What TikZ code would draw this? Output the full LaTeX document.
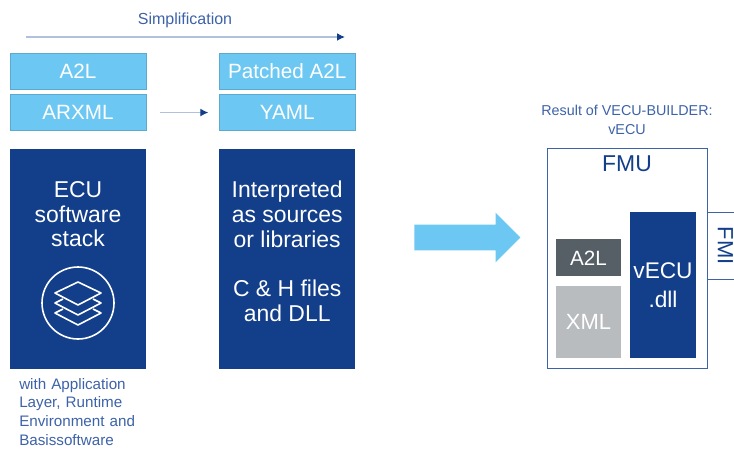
\documentclass[tikz,border=0pt]{standalone}
\usepackage{fontspec}
\setmainfont{Liberation Sans}
\usetikzlibrary{positioning, calc, arrows.meta, shapes.arrows}
\definecolor{vblue}{HTML}{123E8A}
\definecolor{vsky}{HTML}{6CC8F2}
\definecolor{vtext}{HTML}{3D62A8}
\definecolor{vline}{HTML}{B2C0DD}
\definecolor{vdgray}{HTML}{565E66}
\definecolor{vlgray}{HTML}{B8BCBF}
\newcommand\txtsize[1]{\fontsize{#1}{#1}\selectfont}
\tikzset{filebox/.style={fill=vsky, draw=vsky!85!black, line width=0.4pt, text=white, minimum width=102pt, minimum height=27pt, inner sep=0pt, font=\txtsize{15.5}}}
\tikzset{stackbox/.style={fill=vblue, minimum width=102pt, minimum height=165pt, inner sep=0pt}}
\tikzset{stacktext/.style={text=white, inner sep=0pt, align=center, font=\txtsize{17.2}}}
\tikzset{capt/.style={text=vtext, inner sep=0pt, align=center, font=\txtsize{11.4}}}
\tikzset{flowarr/.style={draw=vline, line width=1.2pt, -{Latex[length=6pt,width=6pt,color=vblue]}}}
\tikzset{innerbox/.style={minimum width=49pt, inner sep=0pt, text=white, font=\txtsize{15.5}}}
\begin{document}
\begin{tikzpicture}[x=0.75pt, y=-0.75pt]
	\clip (0,0) rectangle (734,449);
	\useasboundingbox (0,0) rectangle (734,449);

	\node[capt, font=\txtsize{12}] (simp) at (185,20) {Simplification};
	\coordinate (simpstart) at (26,37);
	\coordinate (simpend) at (345,37);
	\draw[flowarr] (simpstart) -- (simpend);

	\node[filebox] (a2l) at (78,71) {A2L};
	\node[filebox, below=3.75pt of a2l] (arxml) {ARXML};
	\node[stackbox, below=13.5pt of arxml] (ecu) {};
	\node[stacktext, below=24pt of ecu.north] (ecutext) {ECU\\[1.5pt]software\\[1.5pt]stack};
	\node[circle, draw=white, line width=1.2pt, minimum size=54pt, inner sep=0pt] (stackicon) at (78,303) {};
	\begin{scope}[shift={(stackicon.center)}, draw=white, line width=1.2pt, line join=round]
		\draw (-23,-10) -- (0,-21) -- (23,-10) -- (0,2) -- cycle;
		\draw (-15,-4) -- (-23,0) -- (0,12) -- (23,0) -- (15,-4);
		\draw (-15,6) -- (-23,10) -- (0,22) -- (23,10) -- (15,6);
	\end{scope}
	\node[capt, anchor=north west, align=left, text width=110pt] (ecunote) at (19,378) {with Application\\[2.6pt]Layer, Runtime\\[2.6pt]Environment and\\[2.6pt]Basissoftware};

	\node[filebox, right=54.5pt of a2l] (patched) {Patched A2L};
	\node[filebox, below=3.75pt of patched] (yaml) {YAML};
	\node[stackbox, below=13.5pt of yaml] (interp) {};
	\node[stacktext, below=24pt of interp.north] (interptext) {Interpreted\\[1.5pt]as sources\\[1.5pt]or libraries\\[19.5pt]C \& H files\\[1.5pt]and DLL};
	\draw[flowarr, line width=0.9pt, shorten <=10.5pt, shorten >=8pt] (arxml) -- (yaml);

	\node[single arrow, fill=vsky, anchor=tail, minimum height=79.5pt, minimum width=36.75pt, single arrow head extend=9pt, inner sep=0pt, text height=18.75pt] (bigarr) at (414,237.5) {};

	\node[capt, font=\txtsize{10.75}] (result) at (627,119.5) {Result of VECU-BUILDER:\\[3.5pt]vECU};
	\node[draw=vtext, line width=0.7pt, minimum width=120pt, minimum height=165pt, inner sep=0pt] (fmu) at (627,258) {};
	\node[text=vblue, below=6pt of fmu.north, inner sep=0pt, font=\txtsize{17.2}] (fmulabel) {FMU};
	\node[innerbox, fill=vblue, minimum height=109.5pt, align=center, font=\txtsize{17}] (vecu) at (663,285) {vECU\\[5pt].dll};
	\node[innerbox, fill=vlgray, minimum height=54pt, font=\txtsize{16.5}] (xml) at (588.5,322) {XML};
	\node[innerbox, fill=vdgray, minimum height=27.75pt, above=6.75pt of xml] (a2lfmu) {A2L};
	\coordinate (fmitop) at (734,212);
	\coordinate (fmibot) at (734,279);
	\draw[draw=vtext, line width=0.7pt] (fmu.east |- fmitop) -- (fmitop);
	\draw[draw=vtext, line width=0.7pt] (fmu.east |- fmibot) -- (fmibot);
	\node[rotate=-90, text=vblue, inner sep=0pt, font=\txtsize{16.5}] (fmi) at (725.5,245.5) {FMI};
\end{tikzpicture}
\end{document}
